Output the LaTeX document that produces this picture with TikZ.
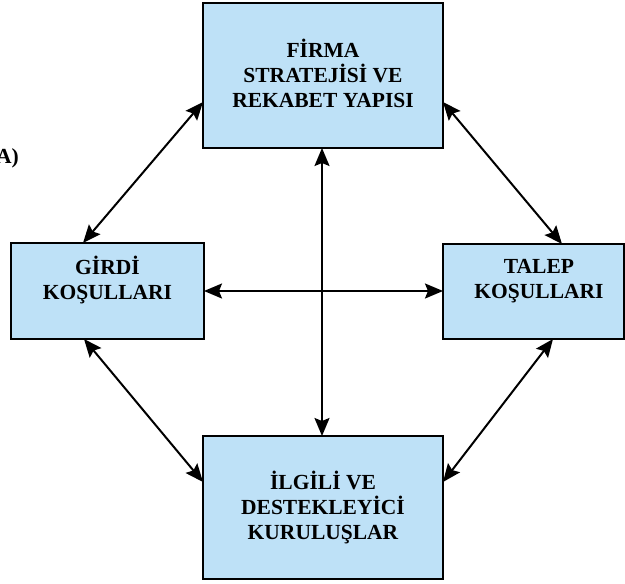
\documentclass[tikz,border=0pt]{standalone}
\usepackage{fontspec}
\setmainfont{Liberation Serif}
\usetikzlibrary{arrows.meta}
\definecolor{boxfill}{RGB}{190,225,247}
\tikzset{
  box/.style={draw=black, line width=1.7pt, fill=boxfill, inner sep=0pt, outer sep=0pt},
  lbl/.style={align=center, inner sep=0pt, font=\bfseries\fontsize{21.5}{25}\selectfont},
  link/.style={line width=2pt, {Stealth[length=18pt,width=15pt,inset=3pt]}-{Stealth[length=18pt,width=15pt,inset=3pt]}}
}
\begin{document}
\begin{tikzpicture}[x=1pt,y=-1pt]
\useasboundingbox (0,0) rectangle (625,584);
% boxes
\node[box, minimum width=240pt, minimum height=145pt] (firma) at (323,75.5) {};
\node[box, minimum width=193pt, minimum height=96pt] (girdi) at (107.5,291) {};
\node[box, minimum width=181pt, minimum height=95pt] (talep) at (533.5,291.5) {};
\node[box, minimum width=240pt, minimum height=143pt] (ilgili) at (323,507.5) {};
% labels (anchored on the baseline of their last line)
\node[lbl, anchor=base] (tfirma) at (323,107) {FİRMA\\STRATEJİSİ VE\\REKABET YAPISI};
\node[lbl, anchor=base] (tgirdi) at (107.5,299) {GİRDİ\\KOŞULLARI};
\node[lbl, anchor=base] (ttalep) at (539,298) {TALEP\\KOŞULLARI};
\node[lbl, anchor=base] (tilgili) at (323,539) {İLGİLİ VE\\DESTEKLEYİCİ\\KURULUŞLAR};
\node[lbl, anchor=base east] (tag) at (19,163) {A)};
% connectors
\draw[link] ([yshift=-26.5pt]firma.west) -- ([xshift=-24.5pt]girdi.north);
\draw[link] ([yshift=-26.5pt]firma.east) -- ([xshift=28.5pt]talep.north);
\draw[link] ([xshift=-23.5pt]girdi.south) -- ([yshift=25.5pt]ilgili.west);
\draw[link] ([xshift=19.5pt]talep.south) -- ([yshift=25.5pt]ilgili.east);
\draw[link] (girdi.east) -- (girdi.east -| talep.west);
\draw[link] ([xshift=-1pt]firma.south) -- ([xshift=-1pt]ilgili.north);
\end{tikzpicture}
\end{document}
